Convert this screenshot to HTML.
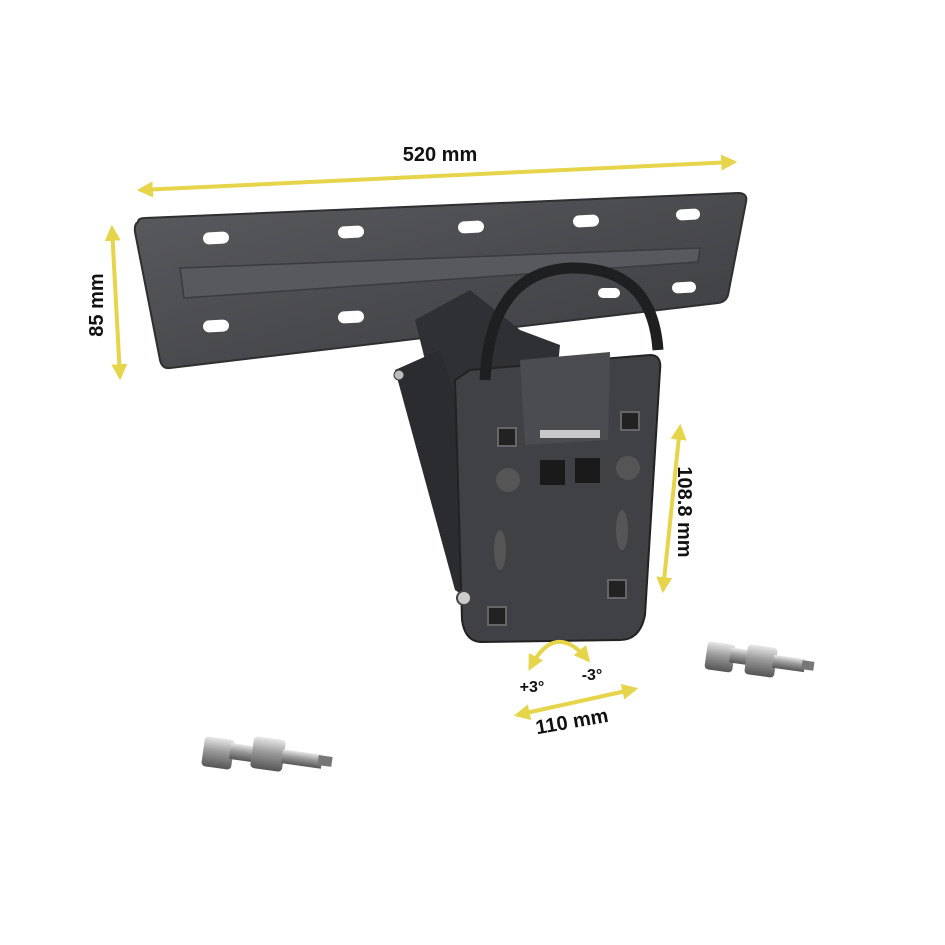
<!DOCTYPE html>
<html><head><meta charset="utf-8"><style>
html,body{margin:0;padding:0;background:#fff;}
svg{display:block}
text{font-family:"Liberation Sans",sans-serif;font-weight:bold;fill:#111}
</style></head><body>
<svg width="945" height="945" viewBox="0 0 945 945" xmlns="http://www.w3.org/2000/svg">
<defs>
<linearGradient id="pl" x1="0" y1="0" x2="1" y2="1">
<stop offset="0" stop-color="#5a5b5e"/><stop offset="0.5" stop-color="#4a4b4e"/><stop offset="1" stop-color="#3c3d40"/></linearGradient>
<linearGradient id="sc" x1="0" y1="0" x2="0" y2="1">
<stop offset="0" stop-color="#e8e8e8"/><stop offset="0.45" stop-color="#9a9a9a"/><stop offset="1" stop-color="#555"/></linearGradient>
<marker id="ah" viewBox="0 0 10 10" refX="8" refY="5" markerWidth="4" markerHeight="4" orient="auto-start-reverse">
<path d="M0,0 L10,5 L0,10 z" fill="#e6d44a"/></marker>
</defs>

<path d="M138,222 Q138,218 145,218 L738,193 Q748,193 746,202 L728,295 Q726,302 718,303 L170,368 Q162,369 160,360 L135,232 Q134,224 138,222 Z" fill="url(#pl)" stroke="#2e2f31" stroke-width="2"/>
<path d="M180,268 L700,248 L698,262 L184,298 Z" fill="#58595c" stroke="#3a3b3e" stroke-width="1.5"/>
<g fill="#fff">
<rect x="203" y="232" width="26" height="12" rx="6" transform="rotate(-3 216 238)"/>
<rect x="338" y="226" width="26" height="12" rx="6" transform="rotate(-3 351 232)"/>
<rect x="458" y="221" width="26" height="12" rx="6" transform="rotate(-3 471 227)"/>
<rect x="573" y="215" width="26" height="12" rx="6" transform="rotate(-3 586 221)"/>
<rect x="676" y="209" width="24" height="11" rx="5.5" transform="rotate(-3 688 214)"/>
<rect x="203" y="320" width="26" height="12" rx="6" transform="rotate(-3 216 326)"/>
<rect x="338" y="311" width="26" height="12" rx="6" transform="rotate(-3 351 317)"/>
<rect x="672" y="282" width="24" height="11" rx="5.5" transform="rotate(-3 684 287)"/>
<rect x="598" y="288" width="22" height="10" rx="5"/>
</g>

<path d="M415,320 L470,290 L520,330 L560,345 L555,395 L470,400 L440,420 Z" fill="#2f3033"/>
<path d="M395,370 L440,350 L480,470 L470,600 L455,590 Z" fill="#2b2c2f"/>
<path d="M470,370 L650,355 Q662,355 660,370 L645,615 Q640,640 620,640 L482,642 Q465,642 462,620 L455,380 Z" fill="#404145" stroke="#222" stroke-width="2"/>
<path d="M485,380 Q490,272 570,268 Q652,266 658,350" fill="none" stroke="#1e1f21" stroke-width="11"/>
<path d="M520,360 L610,352 L608,440 L525,445 Z" fill="#4b4c50"/>
<rect x="540" y="430" width="60" height="8" fill="#c8c8c8"/>
<rect x="540" y="460" width="25" height="25" fill="#1a1a1a"/>
<rect x="575" y="458" width="25" height="25" fill="#1a1a1a"/>
<g fill="#555">
<circle cx="508" cy="480" r="12"/><circle cx="628" cy="468" r="12"/>
<ellipse cx="500" cy="550" rx="6" ry="20"/><ellipse cx="622" cy="530" rx="6" ry="20"/>
</g>
<g fill="#222" stroke="#666" stroke-width="2">
<rect x="498" y="428" width="18" height="18"/><rect x="621" y="412" width="18" height="18"/>
<rect x="488" y="607" width="18" height="18"/><rect x="608" y="580" width="18" height="18"/>
</g>
<circle cx="464" cy="598" r="7" fill="#ccc" stroke="#444" stroke-width="2"/>
<circle cx="399" cy="375" r="5" fill="#bbb" stroke="#333"/>

<g>
<rect x="203" y="738" width="30" height="30" rx="4" fill="url(#sc)" transform="rotate(8 218 753)"/>
<rect x="230" y="745" width="30" height="16" fill="url(#sc)" transform="rotate(8 245 753)"/>
<rect x="252" y="738" width="32" height="32" rx="4" fill="url(#sc)" transform="rotate(8 268 754)"/>
<rect x="282" y="752" width="40" height="14" fill="url(#sc)" transform="rotate(8 302 759)"/>
<rect x="318" y="756" width="14" height="10" fill="#777" transform="rotate(8 325 761)"/>
</g>
<g>
<rect x="706" y="643" width="28" height="28" rx="4" fill="url(#sc)" transform="rotate(8 720 657)"/>
<rect x="730" y="649" width="22" height="15" fill="url(#sc)" transform="rotate(8 741 656)"/>
<rect x="746" y="646" width="30" height="30" rx="4" fill="url(#sc)" transform="rotate(8 761 661)"/>
<rect x="773" y="657" width="32" height="13" fill="url(#sc)" transform="rotate(8 789 663)"/>
<rect x="802" y="661" width="12" height="9" fill="#777" transform="rotate(8 808 665)"/>
</g>

<g stroke="#e6d44a" stroke-width="4" fill="none" marker-start="url(#ah)" marker-end="url(#ah)">
<line x1="140" y1="190" x2="734" y2="162"/>
<line x1="112" y1="228" x2="120" y2="377"/>
<line x1="680" y1="427" x2="663" y2="590"/>
<line x1="517" y1="715" x2="635" y2="689"/>
<path d="M530,668 Q555,620 588,660"/>
</g>

<text x="440" y="161" font-size="20" text-anchor="middle">520 mm</text>
<text x="0" y="0" font-size="20" text-anchor="middle" transform="translate(103,305) rotate(-90)">85 mm</text>
<text x="0" y="0" font-size="20" text-anchor="middle" transform="translate(678,512) rotate(90)">108.8 mm</text>
<text x="0" y="0" font-size="20" text-anchor="middle" transform="translate(573,728) rotate(-10)">110 mm</text>
<text x="532" y="692" font-size="16" text-anchor="middle">+3°</text>
<text x="592" y="680" font-size="16" text-anchor="middle">-3°</text>
</svg>
</body></html>
